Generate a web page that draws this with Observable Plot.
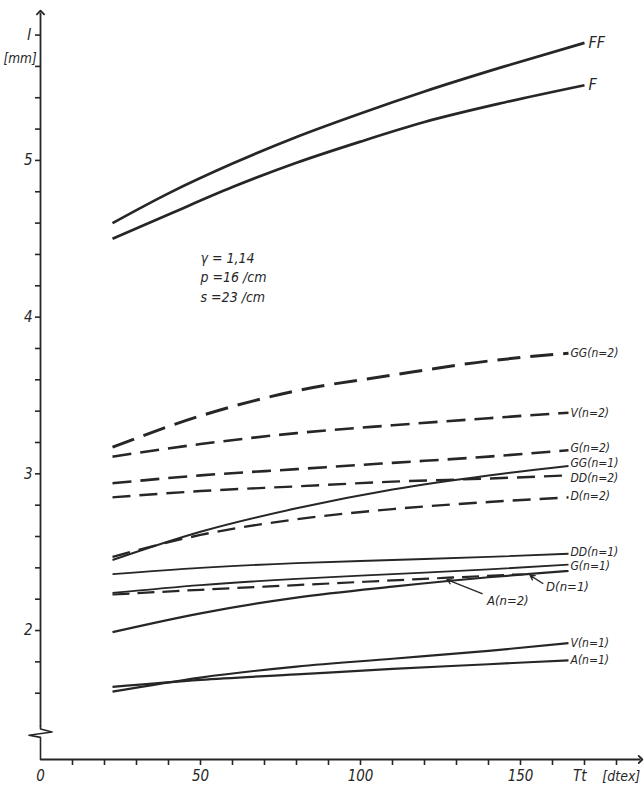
<!DOCTYPE html>
<html><head><meta charset="utf-8">
<script src="https://cdn.jsdelivr.net/npm/d3@7"></script>
<script src="https://cdn.jsdelivr.net/npm/@observablehq/plot@0.6"></script>
<style>
body{margin:0;background:#fff;}
#chart svg{display:block;}
#chart text{font-stretch:condensed;}
</style>
</head><body><div id="chart"></div>
<script>
// Tt [dtex] sample positions
const xTop = [22.5, 40, 60, 80, 100, 120, 145, 170];
const xMid = [22.5, 50, 80, 110, 140, 165];
const xD1  = [22.5, 50, 80, 110, 151];

// loop length l [mm]
const FF   = [4.60, 4.79, 4.98, 5.15, 5.30, 5.44, 5.60, 5.75];
const F    = [4.50, 4.655, 4.83, 4.985, 5.12, 5.245, 5.37, 5.48];
const GG2  = [3.17, 3.37, 3.53, 3.63, 3.72, 3.77];
const V2   = [3.11, 3.19, 3.26, 3.31, 3.355, 3.39];
const G2   = [2.94, 2.99, 3.03, 3.07, 3.11, 3.15];
const DD2  = [2.85, 2.89, 2.92, 2.95, 2.97, 2.99];
const D2   = [2.47, 2.61, 2.71, 2.775, 2.82, 2.85];
const GG1  = [2.45, 2.63, 2.78, 2.90, 2.99, 3.05];
const DD1  = [2.36, 2.40, 2.43, 2.45, 2.47, 2.49];
const G1   = [2.24, 2.29, 2.33, 2.36, 2.39, 2.42];
const D1   = [2.23, 2.26, 2.29, 2.32, 2.36];
const A2   = [1.99, 2.11, 2.21, 2.28, 2.34, 2.38];
const V1   = [1.61, 1.70, 1.77, 1.82, 1.87, 1.92];
const A1   = [1.64, 1.685, 1.72, 1.755, 1.785, 1.81];

const series = [
  {name:"FF", xs:xTop, ys:FF, dash:null, w:2.7, label:"FF", big:true},
  {name:"F", xs:xTop, ys:F, dash:null, w:2.7, label:"F", big:true},
  {name:"GG2", xs:xMid, ys:GG2, dash:"23,10", w:3, label:"GG(n=2)"},
  {name:"V2", xs:xMid, ys:V2, dash:"19,9", w:2.6, label:"V(n=2)"},
  {name:"G2", xs:xMid, ys:G2, dash:"19,9", w:2.6, label:"G(n=2)", dy:-2.5},
  {name:"GG1", xs:xMid, ys:GG1, dash:null, w:2, label:"GG(n=1)", dy:-2.5},
  {name:"DD2", xs:xMid, ys:DD2, dash:"18,9", w:2.4, label:"DD(n=2)", dy:3},
  {name:"D2", xs:xMid, ys:D2, dash:"18,9", w:2.4, label:"D(n=2)", dy:-1},
  {name:"DD1", xs:xMid, ys:DD1, dash:null, w:1.8, label:"DD(n=1)", dy:-2},
  {name:"G1", xs:xMid, ys:G1, dash:null, w:1.8, label:"G(n=1)", dy:1},
  {name:"D1", xs:xD1, ys:D1, dash:"17,8", w:2.2, label:null},
  {name:"A2", xs:xMid, ys:A2, dash:null, w:2.2, label:null},
  {name:"V1", xs:xMid, ys:V1, dash:null, w:2.2, label:"V(n=1)"},
  {name:"A1", xs:xMid, ys:A1, dash:null, w:2.2, label:"A(n=1)"}
];

// pointer labels
const pointers = [
  {label:"A(n=2)", x1:138, y1:2.235, x2:127, y2:2.325, tx:139.5, ty:2.19},
  {label:"D(n=1)", x1:157, y1:2.30, x2:153, y2:2.352, tx:158, ty:2.28}
];

const paramText = ["γ = 1,14", "p =16 /cm", "s =23 /cm"];
const paramY = [4.375, 4.25, 4.125];

const yMinor = d3.range(1.6, 5.81, 0.2).map(v => +v.toFixed(1));
const yMajor = [2, 3, 4, 5];
const xMinor = d3.range(10, 181, 10);
const xMajor = [0, 50, 100, 150];

const yBottom = 1.177, yTop = 5.944, xEnd = 187.5;
const axisBreak = [
  {x:0, y:1.385}, {x:0, y:1.372}, {x:3.6, y:1.352}, {x:-3.6, y:1.332}, {x:0, y:1.318}, {x:0, y:yBottom}
];

const ink = "#262626";
const font = "'DejaVu Sans Condensed','DejaVu Sans',sans-serif";

const marks = [];
// axes lines
marks.push(Plot.link([0], {x1:()=>0, y1:()=>yBottom, x2:()=>xEnd, y2:()=>yBottom, stroke:ink, strokeWidth:1.8, markerEnd:"arrow"}));
marks.push(Plot.link([0], {x1:()=>0, y1:()=>1.385, x2:()=>0, y2:()=>yTop, stroke:ink, strokeWidth:1.8, markerEnd:"arrow"}));
marks.push(Plot.line(axisBreak, {x:"x", y:"y", stroke:ink, strokeWidth:1.6, curve:"linear"}));
// ticks
marks.push(Plot.axisY({ticks:yMinor, tickSize:5, tickFormat:()=>"", stroke:ink, strokeWidth:1.6}));
marks.push(Plot.axisX({ticks:xMinor, tickSize:6, tickFormat:()=>"", stroke:ink, strokeWidth:1.6}));
marks.push(Plot.text(yMajor, {x:()=>0, y:d=>d, text:d=>String(d), dx:-8, textAnchor:"end", fontSize:15, fill:ink, fontStyle:"italic"}));
marks.push(Plot.text(xMajor, {x:d=>d, y:()=>yBottom, text:d=>String(d), dy:17, fontSize:15, fill:ink, fontStyle:"italic"}));
marks.push(Plot.text(["Tt"], {x:()=>168.5, y:()=>yBottom, text:d=>d, dy:17, fontSize:15, fill:ink, fontStyle:"italic"}));
marks.push(Plot.text(["[dtex]"], {x:()=>181.5, y:()=>yBottom, text:d=>d, dy:17, fontSize:14, fill:ink, fontStyle:"italic"}));
marks.push(Plot.text(["l"], {x:()=>-3.6, y:()=>5.8, text:d=>d, fontSize:16, fill:ink, fontStyle:"italic"}));
marks.push(Plot.text(["[mm]"], {x:()=>-1.2, y:()=>5.65, text:d=>d, textAnchor:"end", fontSize:13.5, fill:ink, fontStyle:"italic"}));

// curves
for (const s of series) {
  const data = s.xs.map((x,i)=>({x, y:s.ys[i]}));
  marks.push(Plot.line(data, {x:"x", y:"y", curve:"monotone-x", stroke:ink, strokeWidth:s.w,
    strokeDasharray:s.dash || undefined, strokeLinecap:"butt"}));
  if (s.label) {
    const last = data[data.length-1];
    marks.push(Plot.text([last], {x:"x", y:"y", text:()=>s.label, textAnchor:"start", dx: s.big ? 4 : 2, dy:s.dy||0,
      fontSize: s.big ? 16 : 12, fill:ink, fontStyle:"italic"}));
  }
}
// pointers
marks.push(Plot.arrow(pointers, {x1:"x1", y1:"y1", x2:"x2", y2:"y2", stroke:ink, strokeWidth:1.3, headLength:6, bend:0}));
marks.push(Plot.text(pointers, {x:"tx", y:"ty", text:"label", textAnchor:"start", fontSize:13, fill:ink, fontStyle:"italic"}));
// parameters
marks.push(Plot.text(paramText, {x:()=>50, y:(d,i)=>paramY[i], text:d=>d, textAnchor:"start", fontSize:14, fill:ink, fontStyle:"italic"}));

const chart = Plot.plot({
  width:644, height:785,
  marginLeft:40, marginRight:4, marginTop:12, marginBottom:26,
  x:{type:"linear", domain:[0, xEnd], axis:null},
  y:{type:"linear", domain:[yBottom, yTop], axis:null},
  style:{fontFamily:font, background:"#fff", overflow:"visible"},
  marks
});
document.getElementById("chart").appendChild(chart);
</script>
</body></html>
